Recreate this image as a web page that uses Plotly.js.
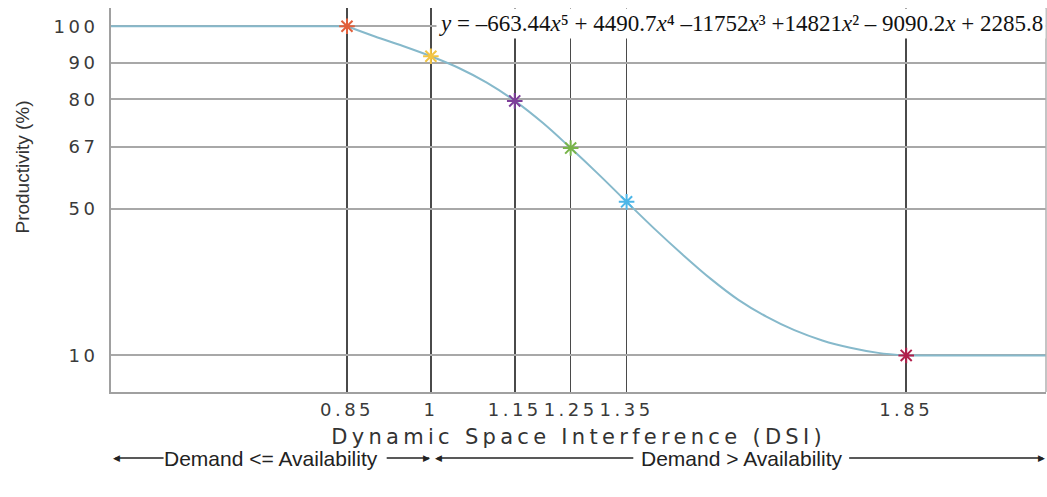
<!DOCTYPE html>
<html>
<head>
<meta charset="utf-8">
<script src="https://cdn.plot.ly/plotly-3.0.1.min.js"></script>
<style>
  html, body { margin: 0; padding: 0; background: #fff; }
  #chart { width: 1047px; height: 497px; }
  .xtick text, .ytick text { letter-spacing: 3.5px; }
  .annotation-text.spaced { letter-spacing: 4.3px; }
  .annotation-text.eqspaced { letter-spacing: 0.25px; }
</style>
</head>
<body>
<div id="chart"></div>
<script>
// ---- data ----
const dsiTicks = [0.85, 1, 1.15, 1.25, 1.35, 1.85];
const dsiTickText = ['0.85', '1', '1.15', '1.25', '1.35', '1.85'];
const prodTicks = [10, 50, 67, 80, 90, 100];

// curve
const curveX = [0.85, 0.9, 0.95, 1.0, 1.05, 1.1, 1.15, 1.2, 1.25, 1.3, 1.35, 1.4, 1.45, 1.5, 1.55, 1.6, 1.65, 1.7, 1.75, 1.8, 1.85];
const curveY = [100, 97.2, 94.6, 91.8, 88.6, 84.6, 79.6, 73.6, 66.7, 59.5, 52.0, 44.6, 37.6, 31.0, 25.2, 20.6, 16.9, 14.1, 12.1, 10.7, 10];

// flat parts
const leftFlatX = [0.40, 0.85];
const leftFlatY = [100, 100];
const rightFlatX = [1.85, 2.12];
const rightFlatY = [10, 10];

// marked points
const markX = [0.85, 1, 1.15, 1.25, 1.35, 1.85];
const markY = [100, 91.8, 79.6, 66.7, 52.0, 10];
const markColors = ['#e2603c', '#f2c443', '#7e3f9a', '#78b44a', '#4cb6e8', '#b2204c'];

// region labels below the axis
const regionLabels = ['Demand <= Availability', 'Demand > Availability'];
const regionCenters = [0.714, 1.555];

const lineColor = '#86b9cb';
const tickFont = {family: 'DejaVu Sans, sans-serif', size: 18, color: '#3a3a3a'};

const traces = [
  {x: leftFlatX, y: leftFlatY, type: 'scatter', mode: 'lines', line: {color: lineColor, width: 2}, hoverinfo: 'skip'},
  {x: rightFlatX, y: rightFlatY, type: 'scatter', mode: 'lines', line: {color: lineColor, width: 2}, hoverinfo: 'skip'},
  {x: curveX, y: curveY, type: 'scatter', mode: 'lines', line: {color: lineColor, width: 2, shape: 'spline', smoothing: 1}},
  {x: markX, y: markY, type: 'scatter', mode: 'markers',
   marker: {symbol: 'asterisk-open', size: 13, color: markColors, line: {color: markColors, width: 2}}}
];

const eq = '<i>y</i> = \u2013663.44<i>x</i>\u2075 + 4490.7<i>x</i>\u2074 \u201311752<i>x</i>\u00B3 +14821<i>x</i>\u00B2 \u2013 9090.2<i>x</i> + 2285.8';

const arrowY = -0.172;
const regionFont = {family: 'Liberation Sans Narrow, Arial Narrow, sans-serif', size: 21, color: '#222'};
const headFont = {family: 'DejaVu Sans, sans-serif', size: 9, color: '#222'};
function seg(x0, x1) {
  return {type: 'line', xref: 'x', yref: 'paper', x0: x0, x1: x1, y0: arrowY, y1: arrowY, line: {color: '#222', width: 1.5}};
}
function head(ch, x, anchor) {
  return {text: ch, xref: 'x', yref: 'paper', x: x, y: arrowY, xanchor: anchor, yanchor: 'middle',
          showarrow: false, font: headFont, borderpad: 0};
}

const layout = {
  width: 1047, height: 497,
  margin: {l: 111, r: 1, t: 8, b: 105},
  paper_bgcolor: '#fff', plot_bgcolor: '#fff',
  showlegend: false,
  xaxis: {
    range: [0.428, 2.1], tickvals: dsiTicks, ticktext: dsiTickText,
    showgrid: true, gridcolor: '#4a4a4a', gridwidth: 1.5,
    showline: true, linecolor: '#a0a0a0', linewidth: 2,
    zeroline: false, ticks: '', tickfont: tickFont, ticklabelstandoff: 0
  },
  yaxis: {
    range: [0, 105], tickvals: prodTicks,
    showgrid: true, gridcolor: '#a8a8a8', gridwidth: 2,
    showline: true, linecolor: '#a0a0a0', linewidth: 2,
    zeroline: false, ticks: '', tickfont: tickFont, ticklabelstandoff: 7
  },
  shapes: [
    {type: 'line', xref: 'paper', yref: 'paper', x0: 1, x1: 1, y0: 0, y1: 1, line: {color: '#b0b0b0', width: 1.5}},
    seg(0.436, 0.522), seg(0.921, 0.997), seg(1.012, 1.362), seg(1.748, 2.094)
  ],
  annotations: [
    {text: eq, xref: 'paper', yref: 'paper', x: 1, y: 1.0, xanchor: 'right', yanchor: 'top',
     showarrow: false, bgcolor: '#fff', borderpad: 2,
     font: {family: 'Liberation Serif, Times New Roman, serif', size: 23, color: '#111'}},
    {text: 'Productivity (%)', xref: 'paper', yref: 'paper', x: -0.095, y: 0.585, xanchor: 'center', yanchor: 'middle',
     textangle: -90, showarrow: false,
     font: {family: 'Liberation Sans Narrow, Arial Narrow, sans-serif', size: 19, color: '#333'}},
    {text: 'Dynamic Space Interference (DSI)', xref: 'paper', yref: 'paper', x: 0.5, y: -0.117, xanchor: 'center', yanchor: 'middle',
     showarrow: false, font: {family: 'DejaVu Sans, sans-serif', size: 21, color: '#333'}},
    {text: regionLabels[0], xref: 'x', yref: 'paper', x: regionCenters[0], y: arrowY, xanchor: 'center', yanchor: 'middle',
     showarrow: false, borderpad: 0, font: regionFont},
    {text: regionLabels[1], xref: 'x', yref: 'paper', x: regionCenters[1], y: arrowY, xanchor: 'center', yanchor: 'middle',
     showarrow: false, borderpad: 0, font: regionFont},
    head('\u25C0', 0.430, 'left'), head('\u25B6', 1.000, 'right'),
    head('\u25C0', 1.006, 'left'), head('\u25B6', 2.100, 'right')
  ]
};

Plotly.newPlot('chart', traces, layout, {staticPlot: true, displayModeBar: false}).then(function () {
  document.querySelectorAll('.annotation-text').forEach(function (t) {
    if (t.textContent.indexOf('Dynamic') === 0) t.classList.add('spaced');
  });
});
</script>
</body>
</html>
